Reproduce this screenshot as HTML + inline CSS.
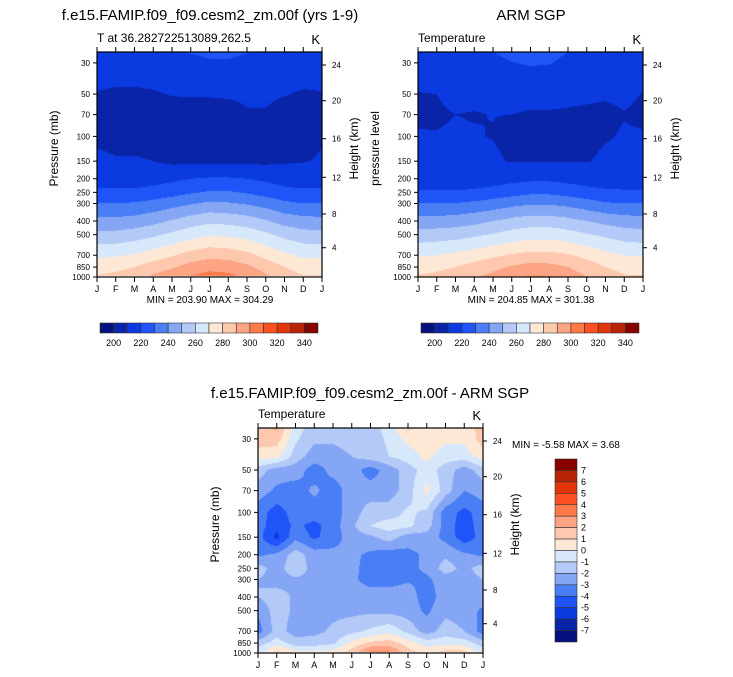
<!DOCTYPE html>
<html><head><meta charset="utf-8"><style>
body{margin:0;background:#fff;width:733px;height:677px;overflow:hidden;position:relative;font-family:"Liberation Sans",sans-serif}
canvas{position:absolute}
svg{position:absolute;left:0;top:0}
</style></head><body>
<canvas id="c1" width="225" height="225" style="left:97px;top:52px"></canvas>
<canvas id="c2" width="225" height="225" style="left:418px;top:52px"></canvas>
<canvas id="c3" width="225" height="225" style="left:258px;top:428px"></canvas>
<svg id="s" width="733" height="677"></svg>
<script>
const months=["J","F","M","A","M","J","J","A","S","O","N","D","J"];
const levels=[1000,850,700,500,400,300,250,200,150,125,100,70,50,30,25];
const modelT=[
[281,283,287,292,296,301,304,303,298,292,285,281,281],
[276,277,280,285,289,294,297,296,292,286,280,276,276],
[268,269,271,275,279,284,287,286,283,277,272,268,268],
[253,253,255,258,262,266,269,268,266,262,257,254,253],
[243,243,244,247,251,255,258,257,255,251,246,244,243],
[230,230,231,233,236,239,242,241,239,236,232,230,230],
[222,222,222,224,226,229,231,231,229,226,223,222,222],
[216,215,215,216,218,220,221,221,220,218,216,215,216],
[211,210.5,211,210,208,208,208,208,208,208,209,209.5,211],
[210.2,209.5,209,208,206,206,206,206,206,206,207,208,210.2],
[208,207.5,207,206,205,205,205,205,205,205,206,207,208],
[206,206,206,206,205,205,205,205,209,209,205.5,206,206],
[209.5,208.5,208.5,209,210.5,211,211,211.5,212,212,210.5,209,209.5],
[215,215,215,216,217,218,219.5,219.5,218.5,217,216,215,215],
[216,216,216,217,218.5,220.5,221,221,220.3,219,217,216,216]];
const obsT=[
[281,282,285,289,293,298,301,300,296,290,285,281,281],
[277,278,280,284,287,291,294,293,290,285,280,277,277],
[269,270,272,275,278,281,283,283,281,277,273,270,269],
[254,255,256,258,261,264,266,266,264,261,258,255,254],
[244,244,245,247,250,253,255,255,253,250,247,245,244],
[230,230,230.5,232,234,237,239,239,237,234,231,230,230],
[221.5,221.5,221,222,224,226,228,228,226,224,222,221.5,221.5],
[214,214,214,214,215,217,218,218,217,215,214,214,214],
[212,212,212,212,211,209.5,209.5,209.5,209.7,209.7,211,212,212],
[211,211,211,211,210.5,209,208,208,209,209,210.5,211,211],
[210.5,210.2,210.5,210.3,209.8,208,207,207,207.5,208,209.5,210.5,210.5],
[209,209.5,210,209.8,210.1,210,209.7,209.7,209.5,209,209,209.8,209],
[209.8,210,211,211,211,211,211,211,211,211,210.5,211,209.8],
[213,213,213,214,218,219.8,221,220.5,218,214,213,213,213],
[214,214,215,217,220,222,223,222.5,220,216,214,214,214]];
const diffLevels=[1000,850,700,500,400,300,250,200,150,125,100,70,50,40,30,25];
const diffT=[
[-0.5,1.5,0.5,0.3,0.5,1.5,3.5,3.3,1.5,0.8,1.5,1.5,-0.5],
[-1.5,-0.5,-1.5,-1.5,-1.2,0.3,1.2,1.5,0.5,-0.5,-0.3,-0.5,-1.5],
[-3.5,-1.5,-2.5,-2.3,-1.8,-1.3,-0.8,-0.3,-1.3,-2.5,-1.5,-2,-3.5],
[-2.8,-1.5,-2.2,-2.3,-2.3,-2.3,-2.2,-2.3,-2.5,-3.2,-2.3,-2.5,-3.2],
[-2,-1.5,-2.2,-2.5,-2.5,-2.5,-2.5,-2.5,-2.5,-3.5,-2.5,-2.5,-2.5],
[-2,-2.5,-2.2,-2.3,-2.5,-2.8,-3.4,-3.4,-3.1,-3.2,-2.5,-2.5,-2],
[-1.5,-2.5,-1.2,-2.5,-2.7,-2.8,-3.3,-3.5,-3.3,-2.8,-1.5,-2.3,-1.5],
[-3.2,-2.8,-1.5,-2.5,-2.7,-2.8,-3.2,-3.6,-3.3,-2.8,-2.2,-2.8,-3.2],
[-3.6,-5.3,-3.3,-4.2,-3.5,-2.5,-2.2,-1.5,-2.5,-2.5,-3.3,-4.6,-3.6],
[-3.5,-4.7,-3.8,-4.3,-3.5,-2.2,-1,-0.5,-0.8,-1.5,-3.5,-4.5,-3.5],
[-3.5,-4.5,-3.5,-3.5,-3.5,-2.5,-1.5,-1.5,-0.8,-1.2,-3.5,-4.3,-3.5],
[-2.5,-3.2,-3.5,-2.8,-3.5,-2.5,-2.5,-2.5,-1.5,0.3,-1.5,-3,-2.5],
[-1.5,-2.5,-2.5,-3.5,-2.7,-2.5,-3.5,-2.5,-1.5,-0.5,-1.5,-2.5,-1.5],
[0.5,0.3,-1.5,-2.5,-2.5,-2,-1.5,-1,-0.5,0.3,-0.5,-0.5,0.5],
[1.5,1.5,-0.8,-1.8,-1.8,-1.5,-1.5,-0.8,0.3,0.5,0.2,0.2,1.5],
[1.5,2.2,-0.5,-1.5,-1.5,-1.2,-1.5,-0.5,1.2,0.5,0.3,0.3,1.5]];
const tempTicks=[200,220,240,260,280,300,320,340];
const diffTicks=[7,6,5,4,3,2,1,0,-1,-2,-3,-4,-5,-6,-7];
const colors=["#050f80","#0a24a8","#0a3ae0","#1f55f8","#4a7ef5","#85a6f5","#b3c9f7","#d8e8fb","#fde8d6","#fdc8ae","#fca484","#fd7a48","#fd5022","#e23608","#b82406","#860000"];
const presTicks=[30,50,70,100,150,200,250,300,400,500,700,850,1000];
const kmTicks=[4,8,12,16,20,24];
const kmOff=[29.3,63,99.7,138.3,176.3,212];
const DEC=140.6;

function interp(data,lv,col,p){
  let lp=Math.log(p);
  if(p>=lv[0]) return data[0][col];
  for(let k=0;k<lv.length-1;k++){
    if(p<=lv[k]&&p>=lv[k+1]){
      let t=(Math.log(lv[k])-lp)/(Math.log(lv[k])-Math.log(lv[k+1]));
      return data[k][col]*(1-t)+data[k+1][col]*t;}
  }
  return data[lv.length-1][col];
}
function drawCanvas(id,data,lv,binFn,pBottom){
  const c=document.getElementById(id),g=c.getContext('2d');
  const img=g.createImageData(225,225);
  const rgb=colors.map(h=>[parseInt(h.substr(1,2),16),parseInt(h.substr(3,2),16),parseInt(h.substr(5,2),16)]);
  for(let y=0;y<225;y++){
    const p=1000/Math.pow(10,(225-y-0.5)/DEC);
    for(let x=0;x<225;x++){
      let o=(y*225+x)*4,col;
      if(p>pBottom){col=[255,255,255];}
      else{
        const m=(x+0.5)/225*12,i0=Math.min(11,Math.floor(m)),t=m-i0;
        const v=interp(data,lv,i0,p)*(1-t)+interp(data,lv,i0+1,p)*t;
        col=rgb[Math.max(0,Math.min(15,binFn(v)))];
      }
      img.data[o]=col[0];img.data[o+1]=col[1];img.data[o+2]=col[2];img.data[o+3]=255;
    }
  }
  g.putImageData(img,0,0);
}
drawCanvas('c1',modelT,levels,v=>Math.floor((v-190)/10),985);
drawCanvas('c2',obsT,levels,v=>Math.floor((v-190)/10),1001);
drawCanvas('c3',diffT,diffLevels,v=>Math.floor(v)+8,985);

const S=document.getElementById('s'),NS="http://www.w3.org/2000/svg";
function el(tag,a,txt){const e=document.createElementNS(NS,tag);for(const k in a)e.setAttribute(k,a[k]);if(txt!=null)e.textContent=txt;S.appendChild(e);return e;}
function axes(ox,oy,ylabel,tl,name){
  const w=225,h=225,by=oy+h;
  const fr=el('rect',{x:ox,y:oy,width:w,height:h,fill:'none',stroke:'#000','stroke-width':1.2});
  
  
  months.forEach((m,i)=>{
    const x=ox+i*w/12;
    el('line',{x1:x,y1:by,x2:x,y2:by+5,stroke:'#000'});
    el('line',{x1:x,y1:oy,x2:x,y2:oy-5,stroke:'#000'});
    const t=el('text',{x:x,y:by+15,'font-size':9,'text-anchor':'middle'},m);
    
    
  });
  presTicks.forEach(p=>{
    const y=by-Math.log10(1000/p)*DEC;
    el('line',{x1:ox,y1:y,x2:ox-4,y2:y,stroke:'#000'});
    const t=el('text',{x:ox-7,y:y+3,'font-size':8,'text-anchor':'end'},p);
    
    
  });
  kmTicks.forEach((k,i)=>{
    const y=by-kmOff[i];
    el('line',{x1:ox+w,y1:y,x2:ox+w+4,y2:y,stroke:'#000'});
    const t=el('text',{x:ox+w+10,y:y+3,'font-size':8},k);
    
    
  });
  const yl=el('text',{x:0,y:0,'font-size':12,'text-anchor':'middle',transform:`translate(${ox-39},${oy+h/2-16}) rotate(-90)`},ylabel);
  
  
  const hl=el('text',{x:0,y:0,'font-size':12,'text-anchor':'middle',transform:`translate(${ox+w+36},${oy+h/2-16}) rotate(-90)`},'Height (km)');
  
  
  const a=el('text',{x:ox,y:oy-10,'font-size':12},tl);
  
  
  const k=el('text',{x:ox+w-2,y:oy-8,'font-size':13,'text-anchor':'end'},'K');
  
  
}
axes(97,52,'Pressure (mb)','T at 36.282722513089,262.5','model');
axes(418,52,'pressure level','Temperature','obs');
axes(258,428,'Pressure (mb)','Temperature','diff');
function txt(x,y,s,size,anchor,name){const t=el('text',{x:x,y:y,'font-size':size,'text-anchor':anchor},s);}
txt(210,20,'f.e15.FAMIP.f09_f09.cesm2_zm.00f (yrs 1-9)',15,'middle','model-title');
txt(531,20,'ARM SGP',15,'middle','obs-title');
txt(370,398,'f.e15.FAMIP.f09_f09.cesm2_zm.00f - ARM SGP',15,'middle','diff-title');
txt(210,303,'MIN = 203.90 MAX = 304.29',10,'middle','model-minmax');
txt(531,303,'MIN = 204.85 MAX = 301.38',10,'middle','obs-minmax');
txt(512,448,'MIN =  -5.58 MAX =  3.68',10,'start','diff-minmax');
function hbar(x0,name){
  const bw=218/16;
  colors.forEach((c,i)=>{
    const r=el('rect',{x:x0+i*bw,y:323,width:bw,height:10,fill:c,stroke:'#333','stroke-width':0.6});
    
    
  });
  tempTicks.forEach(v=>{
    const t=el('text',{x:x0+((v-200)/10+1)*bw,y:346,'font-size':9,'text-anchor':'middle'},v);
    
    
  });
}
hbar(100,'model-colorbar');
hbar(421,'obs-colorbar');
const bh=183/16;
colors.slice().reverse().forEach((c,i)=>{
  const r=el('rect',{x:555,y:459+i*bh,width:22,height:bh,fill:c,stroke:'#333','stroke-width':0.6});
  
  
});
diffTicks.forEach(v=>{
  const t=el('text',{x:581,y:459+(8-v)*bh+3,'font-size':9},v);
  
  
});
</script>
</body></html>
